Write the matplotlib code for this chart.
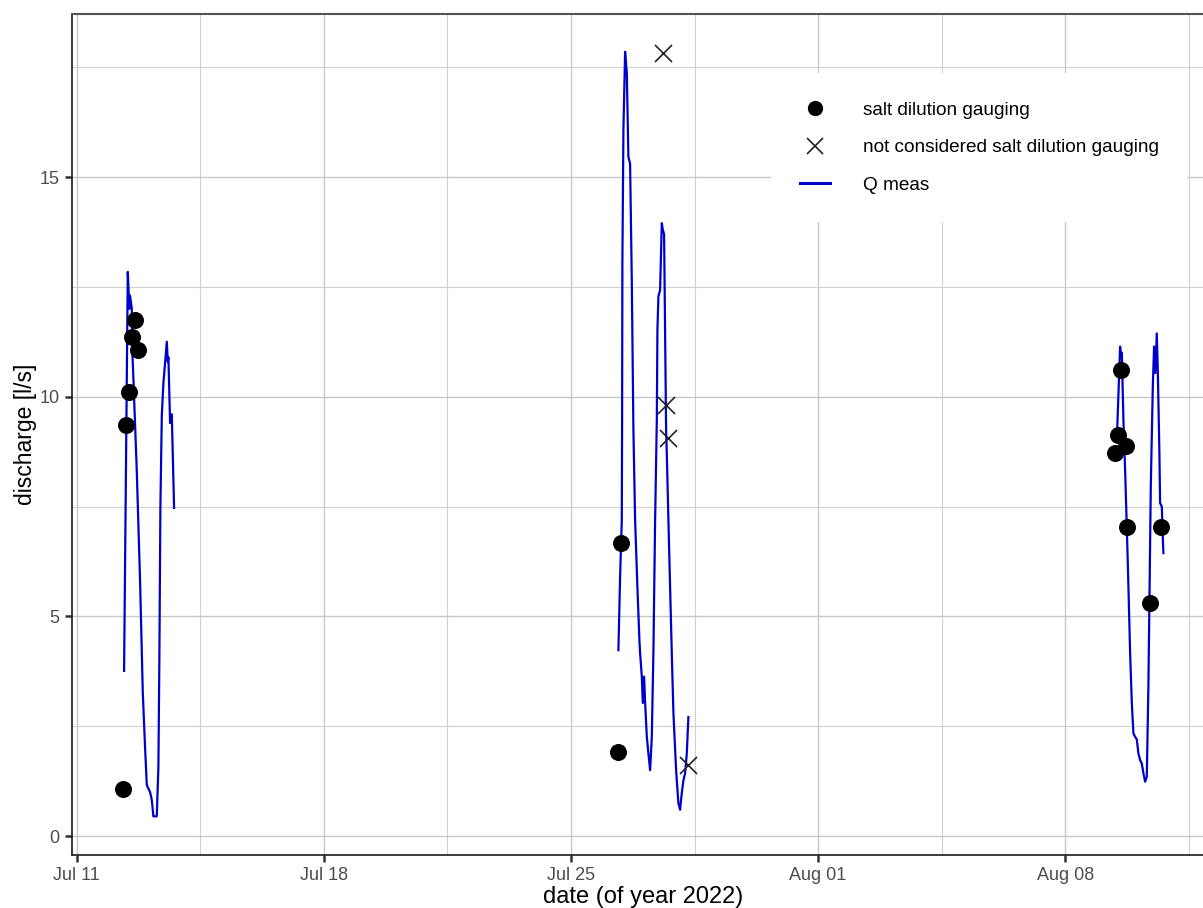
import numpy as np
import matplotlib
matplotlib.use("Agg")
import matplotlib.pyplot as plt
import matplotlib.dates as mdates
from matplotlib.lines import Line2D

plt.rcParams['font.family'] = ['Liberation Sans', 'DejaVu Sans']

# times are days since 2022-07-11 00:00
base = mdates.date2num(np.datetime64('2022-07-11'))

# measured discharge (Q meas), three logging periods
q_day_1 = [1.345, 1.450, 1.495, 1.515, 1.563, 1.580, 1.609, 1.705, 1.798, 1.875, 1.940,
           1.988, 2.082, 2.130, 2.175, 2.271, 2.317, 2.345, 2.373, 2.413, 2.458, 2.555,
           2.583, 2.600, 2.648, 2.696, 2.761]
q_val_1 = [3.76, 12.84, 12.0, 12.3, 12.0, 11.0, 10.4, 8.3, 5.8, 3.26, 2.0,
           1.16, 1.0, 0.82, 0.45, 0.45, 1.58, 4.1, 7.47, 9.56, 10.3, 11.25,
           10.8, 10.9, 9.4, 9.6, 7.47]

q_day_2 = [15.344, 15.392, 15.440, 15.449, 15.457, 15.486, 15.534, 15.582, 15.627, 15.675,
           15.723, 15.769, 15.817, 15.882, 15.939, 15.959, 16.007, 16.035, 16.072, 16.101,
           16.149, 16.194, 16.242, 16.290, 16.335, 16.384, 16.432, 16.449, 16.477, 16.525,
           16.573, 16.601, 16.638, 16.666, 16.695, 16.715, 16.760, 16.808, 16.856, 16.902,
           16.978, 17.043, 17.091, 17.139, 17.185, 17.233, 17.281, 17.326]
q_val_2 = [4.23, 5.9, 7.2, 9.47, 13.04, 16.07, 17.85, 17.37, 15.46, 15.3,
           12.66, 9.24, 7.2, 5.67, 4.46, 4.16, 3.63, 3.03, 3.63, 3.03,
           2.26, 1.88, 1.5, 2.26, 4.16, 7.2, 9.47, 11.52, 12.28, 12.43,
           13.95, 13.8, 13.7, 11.5, 9.24, 8.7, 7.2, 5.67, 4.16, 2.8,
           1.5, 0.75, 0.6, 0.98, 1.27, 1.43, 1.88, 2.71]

q_day_3 = [29.459, 29.552, 29.581, 29.601, 29.646, 29.694, 29.742, 29.788, 29.836, 29.884,
           29.929, 29.977, 30.025, 30.071, 30.119, 30.167, 30.212, 30.260, 30.308, 30.353,
           30.382, 30.421, 30.478, 30.515, 30.552, 30.591, 30.620, 30.665, 30.685, 30.733,
           30.761, 30.778]
q_val_3 = [9.0, 11.14, 10.9, 11.0, 9.47, 8.33, 7.04, 5.67, 4.16, 3.03,
           2.34, 2.26, 2.2, 1.88, 1.73, 1.65, 1.43, 1.24, 1.35, 3.4,
           5.3, 7.95, 10.23, 11.14, 10.54, 11.44, 10.6, 8.72, 7.58, 7.5,
           6.81, 6.44]

# salt dilution gaugings
salt_day = [1.308, 1.402, 1.487, 1.563, 1.657, 1.733, 15.412, 15.344,
            29.572, 29.504, 29.410, 29.722, 29.759, 30.410, 30.713]
salt_val = [1.08, 9.36, 10.1, 11.37, 11.75, 11.07, 6.67, 1.92,
            10.61, 9.13, 8.71, 8.88, 7.04, 5.31, 7.03]

# not considered gaugings
nc_day = [16.618, 16.695, 16.760, 17.326]
nc_val = [17.82, 9.81, 9.05, 1.62]

major_days = [0, 7, 14, 21, 28]
major_labels = ['Jul 11', 'Jul 18', 'Jul 25', 'Aug 01', 'Aug 08']
y_major = [0, 5, 10, 15]

fig = plt.figure(figsize=(12.03, 9.08), dpi=100)
ax = fig.add_axes([72 / 1203, 1 - 855 / 908, (1213.6 - 72) / 1203, (855 - 14) / 908])

blue = '#0000CD'
for d, v in [(q_day_1, q_val_1), (q_day_2, q_val_2), (q_day_3, q_val_3)]:
    ax.plot(base + np.array(d), v, color=blue, lw=1.6, zorder=3)
ax.scatter(base + np.array(salt_day), salt_val, s=150, color='black', zorder=4, linewidths=0)
ax.scatter(base + np.array(nc_day), nc_val, s=150, marker='x', color='#222222', lw=1.2, zorder=4)

ax.set_xlim(base - 0.13, base + 32.2)
ax.set_ylim(-0.43, 18.71)

ax.set_xticks(base + np.array(major_days))
ax.set_xticklabels(major_labels)
ax.set_xticks(base + np.array(major_days) + 3.5, minor=True)
ax.set_yticks(y_major)
ax.set_yticks([2.5, 7.5, 12.5, 17.5], minor=True)

ax.grid(which='major', color='#c8c8c8', lw=1.0, zorder=0)
ax.grid(which='minor', color='#d0d0d0', lw=0.8, zorder=0)
ax.set_axisbelow(True)
ax.tick_params(which='major', length=5, width=1.8, color='#333333', labelcolor='#4d4d4d',
               labelsize=13, pad=4)
ax.tick_params(which='minor', length=0)

for s in ['left', 'bottom']:
    ax.spines[s].set_color('#1a1a1a')
    ax.spines[s].set_linewidth(1.2)
ax.spines['top'].set_color('#555555')
ax.spines['top'].set_linewidth(1.5)
ax.spines['right'].set_visible(False)

ax.set_xlabel('date (of year 2022)', fontsize=17, labelpad=1)
ax.set_ylabel('discharge [l/s]', fontsize=16.5, labelpad=2)

handles = [
    Line2D([], [], ls='none', marker='o', ms=11, color='black', mec='none'),
    Line2D([], [], ls='none', marker='x', ms=11, color='#222222', mew=1.2),
    Line2D([], [], color=blue, lw=2.2),
]
labels = ['salt dilution gauging', 'not considered salt dilution gauging', 'Q meas']
leg = ax.legend(handles, labels, loc='upper left', bbox_to_anchor=(0.6127, 0.9298),
                frameon=True, fancybox=False, framealpha=1, edgecolor='white',
                fontsize=13.7, handlelength=1.6, handletextpad=1.7, labelspacing=1.06,
                borderpad=1.5, borderaxespad=0)
leg.get_frame().set_linewidth(0)

fig.savefig('out.png', dpi=100)
